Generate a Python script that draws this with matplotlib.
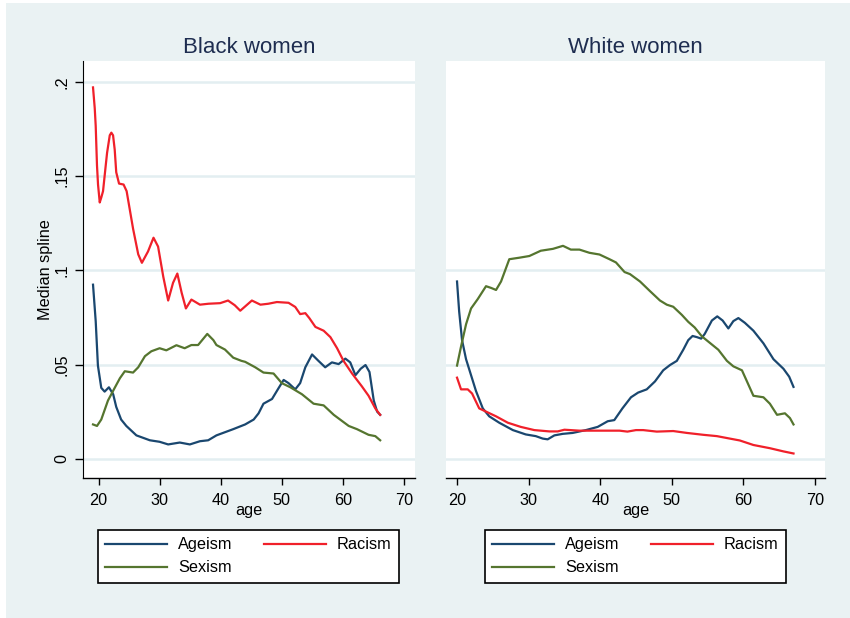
"""Median spline of ageism / racism / sexism by age, Black vs White women"""

import matplotlib.pyplot as plt
from matplotlib.patches import Rectangle

plt.rcParams["font.family"] = ["Liberation Sans", "DejaVu Sans"]

# Black women
bw_ageism_x = [19.1, 19.54, 19.9, 20.45, 21.0, 21.7, 22.4, 22.9, 23.7, 24.55, 26.2, 28.4, 30.0, 31.4,
               33.3, 34.95, 36.6, 37.95, 39.3, 42.05, 44.0, 45.4, 46.2, 47.0, 48.4, 49.5, 50.3, 51.1,
               52.2, 53.0, 53.85, 54.95, 56.0, 57.1, 58.2, 59.3, 60.4, 61.2, 62.05, 62.9, 63.7, 64.35,
               65.05, 65.6, 66.1]
bw_ageism_y = [0.0924, 0.073, 0.0495, 0.0377, 0.0357, 0.038, 0.0343, 0.0276, 0.0209, 0.0175, 0.0125,
               0.0099, 0.0091, 0.0077, 0.0087, 0.0077, 0.0094, 0.0099, 0.0125, 0.0158, 0.0183, 0.0209,
               0.0242, 0.0293, 0.0318, 0.0377, 0.0419, 0.0402, 0.0369, 0.0402, 0.0486, 0.0554, 0.052,
               0.0486, 0.0512, 0.0503, 0.0532, 0.0512, 0.0444, 0.0478, 0.0498, 0.0461, 0.031, 0.0251,
               0.0234]
bw_racism_x = [19.1, 19.38, 19.54, 19.75, 19.92, 20.2, 20.46, 20.74, 21.18, 21.4, 21.84, 22.1, 22.38,
               22.65, 22.9, 23.36, 24.1, 24.6, 25.66, 26.5, 27.1, 28.1, 29.0, 29.75, 30.6, 31.4, 32.2,
               32.9, 33.6, 34.3, 35.2, 36.6, 38.0, 39.9, 41.2, 42.3, 43.2, 45.1, 46.5, 47.8, 49.2,
               51.1, 52.2, 53.0, 53.85, 54.5, 55.5, 56.85, 57.95, 59.05, 60.1, 61.5, 63.1, 64.2, 65.3,
               66.1]
bw_racism_y = [0.197, 0.186, 0.1766, 0.1556, 0.1455, 0.136, 0.1387, 0.142, 0.1556, 0.1623, 0.1716,
               0.173, 0.1716, 0.164, 0.152, 0.146, 0.1455, 0.142, 0.122, 0.1085, 0.104, 0.110,
               0.1173, 0.1126, 0.0966, 0.084, 0.0934, 0.0983, 0.0882, 0.0798, 0.0845, 0.0818, 0.0823,
               0.0826, 0.084, 0.0815, 0.0786, 0.084, 0.0818, 0.0823, 0.0832, 0.0828, 0.0806, 0.0768,
               0.0773, 0.0747, 0.070, 0.068, 0.0646, 0.0587, 0.052, 0.0453, 0.0385, 0.0335, 0.0268,
               0.0234]
bw_sexism_x = [19.1, 19.75, 20.45, 21.55, 22.65, 23.5, 24.3, 25.65, 26.5, 27.6, 28.65, 30.0, 31.1, 32.75,
               34.1, 35.2, 36.3, 37.8, 38.8, 39.3, 40.7, 42.05, 43.4, 44.0, 45.65, 47.0, 48.65, 50.0,
               51.4, 53.3, 55.2, 56.85, 58.5, 60.95, 62.3, 64.2, 65.3, 66.1]
bw_sexism_y = [0.0183, 0.0175, 0.0209, 0.031, 0.0377, 0.0428, 0.0465, 0.0458, 0.0486, 0.0545, 0.0571,
               0.0587, 0.0576, 0.0603, 0.0587, 0.0604, 0.0604, 0.0663, 0.063, 0.0604, 0.058, 0.0537,
               0.052, 0.0515, 0.0486, 0.0458, 0.0453, 0.0402, 0.038, 0.0343, 0.0293, 0.0284, 0.0234,
               0.0175, 0.0158, 0.0128, 0.0121, 0.0099]

# White women
ww_ageism_x = [20.0, 20.3, 20.7, 21.26, 21.96, 22.65, 23.6, 24.5, 25.9, 27.8, 29.6, 31.0, 31.97, 32.66,
               33.6, 34.76, 36.16, 38.0, 39.65, 41.05, 41.97, 43.1, 44.3, 45.3, 46.5, 47.65, 48.8,
               49.75, 50.7, 51.6, 52.3, 52.9, 53.5, 54.1, 54.6, 55.6, 56.35, 57.1, 57.9, 58.6, 59.3,
               60.2, 61.4, 62.8, 64.2, 65.6, 66.4, 67.0]
ww_ageism_y = [0.0941, 0.0781, 0.063, 0.0529, 0.0444, 0.036, 0.0268, 0.0226, 0.0192, 0.0153, 0.013,
               0.0121, 0.0108, 0.0104, 0.0125, 0.0133, 0.0138, 0.0153, 0.017, 0.02, 0.0206, 0.0268,
               0.0327, 0.0352, 0.0369, 0.0411, 0.047, 0.0498, 0.052, 0.0579, 0.063, 0.0652, 0.0646,
               0.0638, 0.0663, 0.0734, 0.0756, 0.0734, 0.0692, 0.0731, 0.0747, 0.0722, 0.068, 0.0613,
               0.0529, 0.0478, 0.0436, 0.0382]
ww_racism_x = [20.0, 20.56, 21.5, 22.1, 23.1, 24.05, 25.45, 27.1, 28.9, 30.8, 32.9, 34.06, 35.0, 37.1,
               39.4, 42.7, 43.8, 45.0, 46.0, 47.9, 50.2, 52.1, 54.4, 56.3, 58.1, 59.5, 61.4, 63.7,
               65.6, 67.0]
ww_racism_y = [0.0431, 0.0369, 0.0369, 0.0347, 0.0268, 0.0251, 0.0226, 0.0192, 0.017, 0.0153, 0.0146,
               0.0146, 0.0155, 0.015, 0.015, 0.015, 0.0145, 0.0153, 0.0153, 0.0145, 0.0148, 0.0138,
               0.0128, 0.0121, 0.0108, 0.0098, 0.0074, 0.0057, 0.004, 0.0029]
ww_sexism_x = [20.0, 20.56, 21.26, 21.96, 22.9, 24.05, 24.75, 25.45, 26.15, 27.3, 28.7, 30.1, 31.7,
               33.4, 34.8, 35.9, 37.1, 38.5, 39.9, 41.3, 42.2, 43.4, 44.16, 45.56, 46.95, 48.35, 49.3,
               50.2, 51.4, 52.3, 53.2, 54.2, 55.3, 56.5, 57.7, 58.6, 59.8, 60.5, 61.4, 62.8, 63.7,
               64.7, 65.8, 66.5, 67.0]
ww_sexism_y = [0.0495, 0.0596, 0.0714, 0.0798, 0.0848, 0.0916, 0.0907, 0.0896, 0.0941, 0.1059, 0.1067,
               0.1076, 0.1104, 0.1114, 0.113, 0.111, 0.111, 0.1093, 0.1084, 0.1059, 0.1042, 0.0991,
               0.098, 0.0941, 0.089, 0.084, 0.0818, 0.0807, 0.0764, 0.0727, 0.0697, 0.065, 0.0616,
               0.0579, 0.052, 0.0491, 0.047, 0.0411, 0.0335, 0.0327, 0.0293, 0.0234, 0.0242, 0.0217,
               0.0183]

x_ticks = [20, 30, 40, 50, 60, 70]
y_ticks = [0, 0.05, 0.1, 0.15, 0.2]
y_tick_labels = ["0", ".05", ".1", ".15", ".2"]

bg = "#EAF2F3"
grid_col = "#E3EEF1"
c_age, c_race, c_sex = "#1A476F", "#F0202A", "#55752F"
title_col = "#1E2D50"
font_size = 11.7
W, H = 850, 618

fig = plt.figure(figsize=(8.5, 6.18), dpi=100, facecolor="white")
fig.add_artist(Rectangle((6 / W, 0), 1, 1 - 3 / H, transform=fig.transFigure,
                         facecolor=bg, edgecolor="none", zorder=-10))

ax1 = fig.add_axes([83 / W, 1 - 478 / H, 332 / W, 417 / H])
ax2 = fig.add_axes([446 / W, 1 - 478 / H, 379 / W, 417 / H])

panels = [
    (ax1, "Black women", (bw_ageism_x, bw_ageism_y), (bw_racism_x, bw_racism_y),
     (bw_sexism_x, bw_sexism_y), (17.46, 71.8), y_ticks, 98),
    (ax2, "White women", (ww_ageism_x, ww_ageism_y), (ww_racism_x, ww_racism_y),
     (ww_sexism_x, ww_sexism_y), (18.46, 71.4), y_ticks[:3], 485),
]

for ax, title, age, race, sex, xlim, grid_ticks, leg_x in panels:
    ax.set_facecolor("white")
    for g in grid_ticks:
        ax.axhline(g, color=grid_col, linewidth=1.8, zorder=0)
    l1, = ax.plot(*age, color=c_age, linewidth=1.6, label="Ageism")
    l2, = ax.plot(*race, color=c_race, linewidth=1.6, label="Racism")
    l3, = ax.plot(*sex, color=c_sex, linewidth=1.6, label="Sexism")
    ax.set_xlim(*xlim)
    ax.set_ylim(-0.0101, 0.211)
    ax.set_xticks(x_ticks)
    ax.tick_params(axis="x", length=5, width=1, labelsize=font_size, pad=6)
    ax.set_xlabel("age", fontsize=font_size, labelpad=-4)
    ax.set_title(title, fontsize=16, color=title_col, pad=6)
    for s in ["top", "right"]:
        ax.spines[s].set_visible(False)
    ax.spines["bottom"].set_linewidth(1)

    # legend box below each panel
    leg = ax.legend([l1, l3, l2], ["Ageism", "Sexism", "Racism"], ncol=2,
                    loc="upper left", mode="expand",
                    bbox_to_anchor=(leg_x / W, 1 - 586 / H, 301 / W, 56 / H),
                    bbox_transform=fig.transFigure, borderaxespad=0,
                    fontsize=font_size, handlelength=3.8, handletextpad=0.7,
                    labelspacing=0.5, borderpad=0.45, fancybox=False,
                    edgecolor="black", framealpha=1)
    leg.get_frame().set_linewidth(1.2)

# left panel y axis
ax1.set_yticks(y_ticks)
ax1.set_yticklabels(y_tick_labels)
ax1.tick_params(axis="y", length=6, width=1, labelsize=font_size, pad=4, labelrotation=90)
for lab in ax1.get_yticklabels():
    lab.set_va("center")
ax1.set_ylabel("Median spline", fontsize=font_size, labelpad=1)

# right panel: no y axis
ax2.set_yticks([])
ax2.spines["left"].set_visible(False)

plt.savefig("out.png", dpi=100, facecolor="white")
